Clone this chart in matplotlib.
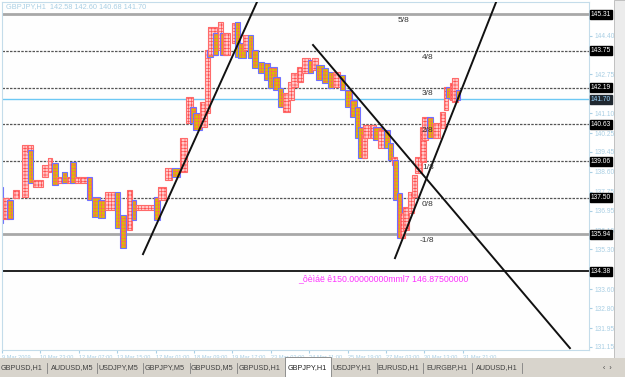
import matplotlib
matplotlib.use("Agg")
import matplotlib.pyplot as plt
import matplotlib.transforms as mtransforms
from matplotlib.patches import Rectangle

plt.rcParams['hatch.linewidth'] = 0.5
plt.rcParams['font.family'] = ['Liberation Sans', 'DejaVu Sans']

# price columns: start bar, end bar, top price, bottom price, kind (u = up, d = down)
col_start = [-2, 1, 4, 9, 17, 21, 22, 26, 33, 38, 42, 46, 50, 54, 57, 61, 65, 71, 75, 80,
             86, 94, 98, 104, 108, 112, 127, 130, 136, 142, 148, 153, 157, 159, 165, 169, 171, 172, 176, 180,
             182, 184, 192, 194, 197, 201, 205, 208, 213, 218, 222, 226, 230, 234, 238, 241, 246, 250, 255, 258,
             262, 267, 272, 276, 282, 286, 290, 294, 297, 300, 301, 307, 309, 313, 318, 322, 325, 326, 329, 332,
             334, 338, 342, 344, 348, 350, 354, 359, 365, 368, 370, 373, 375, 378]
col_end = [1, 6, 9, 14, 22, 26, 26, 34, 38, 42, 47, 51, 54, 59, 62, 66, 72, 75, 82, 86,
           94, 98, 103, 108, 112, 128, 132, 137, 142, 148, 154, 159, 162, 167, 171, 173, 176, 179, 180, 184,
           188, 190, 197, 198, 203, 205, 209, 213, 218, 223, 229, 232, 234, 240, 243, 247, 251, 257, 259, 263,
           268, 272, 276, 282, 286, 292, 296, 298, 303, 304, 307, 312, 317, 319, 323, 326, 329, 330, 333, 336,
           339, 343, 346, 350, 353, 355, 359, 365, 369, 372, 375, 378, 380, 382]
col_top = [137.96, 137.49, 137.40, 137.83, 139.75, 139.75, 139.53, 138.26, 138.89, 139.19, 138.98, 138.38, 138.60, 138.38, 139.02, 138.38, 138.38, 138.38, 137.53, 137.40,
           137.74, 137.74, 136.77, 137.83, 137.40, 137.19, 137.53, 137.96, 138.77, 138.77, 140.04, 141.79, 141.36, 141.11, 141.58, 143.79, 143.79, 144.77, 144.51, 144.98,
           144.51, 144.51, 144.94, 144.98, 144.09, 144.43, 144.43, 143.79, 143.28, 143.24, 143.07, 142.64, 142.17, 141.96, 142.43, 142.81, 143.07, 143.45, 143.37, 143.45,
           143.15, 143.02, 142.85, 142.85, 142.73, 142.09, 141.66, 141.36, 140.51, 140.17, 140.60, 140.60, 140.51, 140.38, 140.38, 139.83, 139.24, 139.11, 137.70, 136.85,
           137.11, 137.74, 138.47, 139.24, 140.51, 140.94, 140.94, 140.68, 141.15, 142.22, 142.22, 142.39, 142.60, 142.09]
col_bot = [136.42, 136.59, 136.59, 137.49, 137.53, 139.45, 138.13, 137.96, 138.38, 138.60, 138.04, 138.13, 138.13, 138.13, 138.13, 138.13, 138.13, 137.40, 136.68, 136.64,
           136.98, 136.21, 135.36, 136.13, 136.55, 136.98, 136.55, 137.40, 138.26, 138.38, 138.60, 140.68, 140.68, 140.38, 140.51, 141.11, 143.49, 143.58, 143.58, 143.79,
           143.58, 143.58, 144.09, 143.49, 143.45, 143.79, 143.45, 143.02, 142.81, 142.51, 142.17, 142.09, 141.36, 141.15, 141.66, 142.22, 142.43, 142.81, 142.81, 142.94,
           142.51, 142.39, 142.17, 142.22, 142.09, 141.36, 140.94, 140.04, 139.19, 139.19, 140.04, 140.04, 139.96, 139.62, 139.62, 139.11, 138.89, 137.40, 135.79, 135.79,
           136.13, 136.85, 137.53, 138.55, 139.02, 139.96, 140.04, 140.04, 140.47, 141.24, 141.75, 141.66, 141.58, 141.66]
col_kind = ['d', 'u', 'd', 'u', 'u', 'u', 'd', 'u', 'u', 'u', 'd', 'u', 'd', 'u', 'd', 'u', 'u', 'd', 'd', 'd',
            'u', 'd', 'd', 'u', 'd', 'u', 'd', 'u', 'u', 'd', 'u', 'u', 'd', 'd', 'u', 'u', 'd', 'u', 'd', 'u',
            'd', 'u', 'u', 'd', 'd', 'u', 'd', 'd', 'd', 'd', 'd', 'd', 'd', 'u', 'u', 'u', 'u', 'u', 'd', 'u',
            'd', 'd', 'd', 'u', 'd', 'd', 'd', 'd', 'd', 'u', 'u', 'u', 'd', 'u', 'd', 'd', 'u', 'd', 'd', 'u',
            'u', 'u', 'u', 'u', 'u', 'u', 'd', 'u', 'u', 'u', 'd', 'u', 'u', 'd']

# Murrey math levels
level_price = [145.31, 143.75, 142.19, 140.63, 139.06, 137.50, 135.94, 134.38]
level_name = ['5/8', '4/8', '3/8', '2/8', '1/8', '0/8', '-1/8', '']
level_text_bar = [330, 350, 350, 350, 350, 350, 348, 0]
bid_price = 141.70

# trend lines: (bar, price) pairs
trend_lines = [
    ([117.5, 213.3], [135.10, 145.92]),
    ([259.2, 473.3], [144.00, 131.10]),
    ([327.5, 412.5], [134.93, 145.92]),
]

# visible scale labels (the rest sit under the level boxes)
price_ticks = [144.40, 142.75, 141.10, 140.25, 139.45, 138.60,
               137.75, 136.95, 136.10, 135.30, 133.60, 132.80, 131.95, 131.15]
time_ticks = [0, 32, 64, 96, 128, 160, 192, 224, 256, 288, 320, 352, 384]
time_labels = ['9 Mar 2009', '10 Mar 23:00', '12 Mar 07:00', '13 Mar 15:00', '17 Mar 01:00',
               '18 Mar 09:00', '19 Mar 17:00', '23 Mar 03:00', '24 Mar 11:00', '25 Mar 19:00',
               '27 Mar 03:00', '30 Mar 13:00', '31 Mar 21:00']
tabs = ['GBPUSD,H1', 'AUDUSD,M5', 'USDJPY,M5', 'GBPJPY,M5', 'GBPUSD,M5', 'GBPUSD,H1',
        'GBPJPY,H1', 'USDJPY,H1', 'EURUSD,H1', 'EURGBP,H1', 'AUDUSD,H1']
tab_center_px = [22, 72, 118, 165, 212, 260, 307, 352, 398, 447, 497]
active_tab = 6

W, H = 625, 377
fig = plt.figure(figsize=(W / 100, H / 100), dpi=100)
fig.patch.set_facecolor('white')
ax = fig.add_axes([2 / W, (H - 350) / H, 587 / W, 348 / H])
ax.set_facecolor('#fefefe')
ax.set_xlim(0, 489.2)
ax.set_ylim(131.02, 145.83)

axis_blue = '#a9cfe4'

# level lines
for p in level_price:
    if p in (145.31, 135.94):
        ax.axhline(p, color='#a8a8a8', lw=2, zorder=1)
    elif p == 134.38:
        ax.axhline(p, color='#101010', lw=1.3, zorder=1)
    else:
        ax.axhline(p, color='#555555', lw=0.9, ls=(0, (2, 1)), zorder=1)
ax.axhline(bid_price, color='#6cc8f4', lw=1.0, zorder=1)

# columns
for s, e, t, b, k in zip(col_start, col_end, col_top, col_bot, col_kind):
    if k == 'u':
        ax.bar(s, t - b, e - s, b, align='edge', facecolor='#ffcaca', edgecolor='#ff5050',
               hatch='+++++', lw=0, zorder=2)
        ax.bar(s, t - b, e - s, b, align='edge', fill=False, edgecolor='#ff6a6a', lw=0.8, zorder=2)
    else:
        ax.bar(s, t - b, e - s, b, align='edge', facecolor='#d6c200', edgecolor='#ff6060',
               hatch='+++++', lw=0, zorder=2)
        ax.bar(s, t - b, e - s, b, align='edge', fill=False, edgecolor='#7070ff', lw=0.8, zorder=2)

# trend lines
for xs, ys in trend_lines:
    ax.plot(xs, ys, color='#111111', lw=1.4, zorder=4)

# level labels
for p, name, xb in zip(level_price, level_name, level_text_bar):
    if name:
        ax.text(xb, p - 0.12, name, fontsize=6, color='#333333', va='top', ha='left', zorder=5)

ax.text(246.7, 134.25, '_ôèìáë ê150.00000000mml7 146.87500000', fontsize=6.3,
        color='#ff33ff', va='top', ha='left', zorder=5)

# axes styling
for sp in ax.spines.values():
    sp.set_color('#c4dcea')
    sp.set_linewidth(0.8)
ax.yaxis.tick_right()
ax.set_yticks(price_ticks)
ax.set_yticklabels([f'{v:.2f}' for v in price_ticks])
ax.tick_params(axis='y', labelsize=4.8, colors=axis_blue, length=2, pad=2)
ax.set_xticks(time_ticks)
ax.set_xticklabels(time_labels)
ax.tick_params(axis='x', labelsize=4.1, colors=axis_blue, length=2, pad=1.5)
for lbl in ax.get_xticklabels():
    lbl.set_ha('left')

# price boxes on the right axis
trans = mtransforms.blended_transform_factory(ax.transAxes, ax.transData)
for p in level_price:
    ax.text(1.003, p, f'{p:.2f}', transform=trans, fontsize=4.8, color='white', va='center',
            ha='left', clip_on=False, zorder=6,
            bbox=dict(boxstyle='square,pad=0.15', facecolor='black', edgecolor='black'))
ax.text(1.003, bid_price, f'{bid_price:.2f}', transform=trans, fontsize=4.8, color='#9fd8ff',
        va='center', ha='left', clip_on=False, zorder=6,
        bbox=dict(boxstyle='square,pad=0.15', facecolor='#202830', edgecolor='#202830'))

# header
fig.text(6 / W, 1 - 7 / H, 'GBPJPY,H1  142.58 142.60 140.68 141.70', fontsize=5.3,
         color=axis_blue, va='center', ha='left')

# right side strip
fig.patches.append(Rectangle((614 / W, 19 / H), 11 / W, 1 - 19 / H, transform=fig.transFigure,
                             facecolor='#ececec', edgecolor='#b8b8b8', lw=0.6))

# tab bar
fig.patches.append(Rectangle((0, 0), 1, 19 / H, transform=fig.transFigure,
                             facecolor='#d8d4cc', edgecolor='none'))
fig.patches.append(Rectangle((285 / W, 0), 46 / W, 20 / H, transform=fig.transFigure,
                             facecolor='white', edgecolor='#808080', lw=0.6))
for i, (name, cx) in enumerate(zip(tabs, tab_center_px)):
    fig.text(cx / W, 9 / H, name, fontsize=5.2, color='#202020' if i == active_tab else '#404040',
             ha='center', va='center')
    if i != active_tab and i + 1 != active_tab:
        sx = cx + 25
        fig.add_artist(plt.Line2D([sx / W, sx / W], [4 / H, 14 / H], color='#808080', lw=0.6))
fig.text(607 / W, 9 / H, '‹  ›', fontsize=5, color='#404040', ha='center', va='center')

fig.savefig('out.png', dpi=100)
